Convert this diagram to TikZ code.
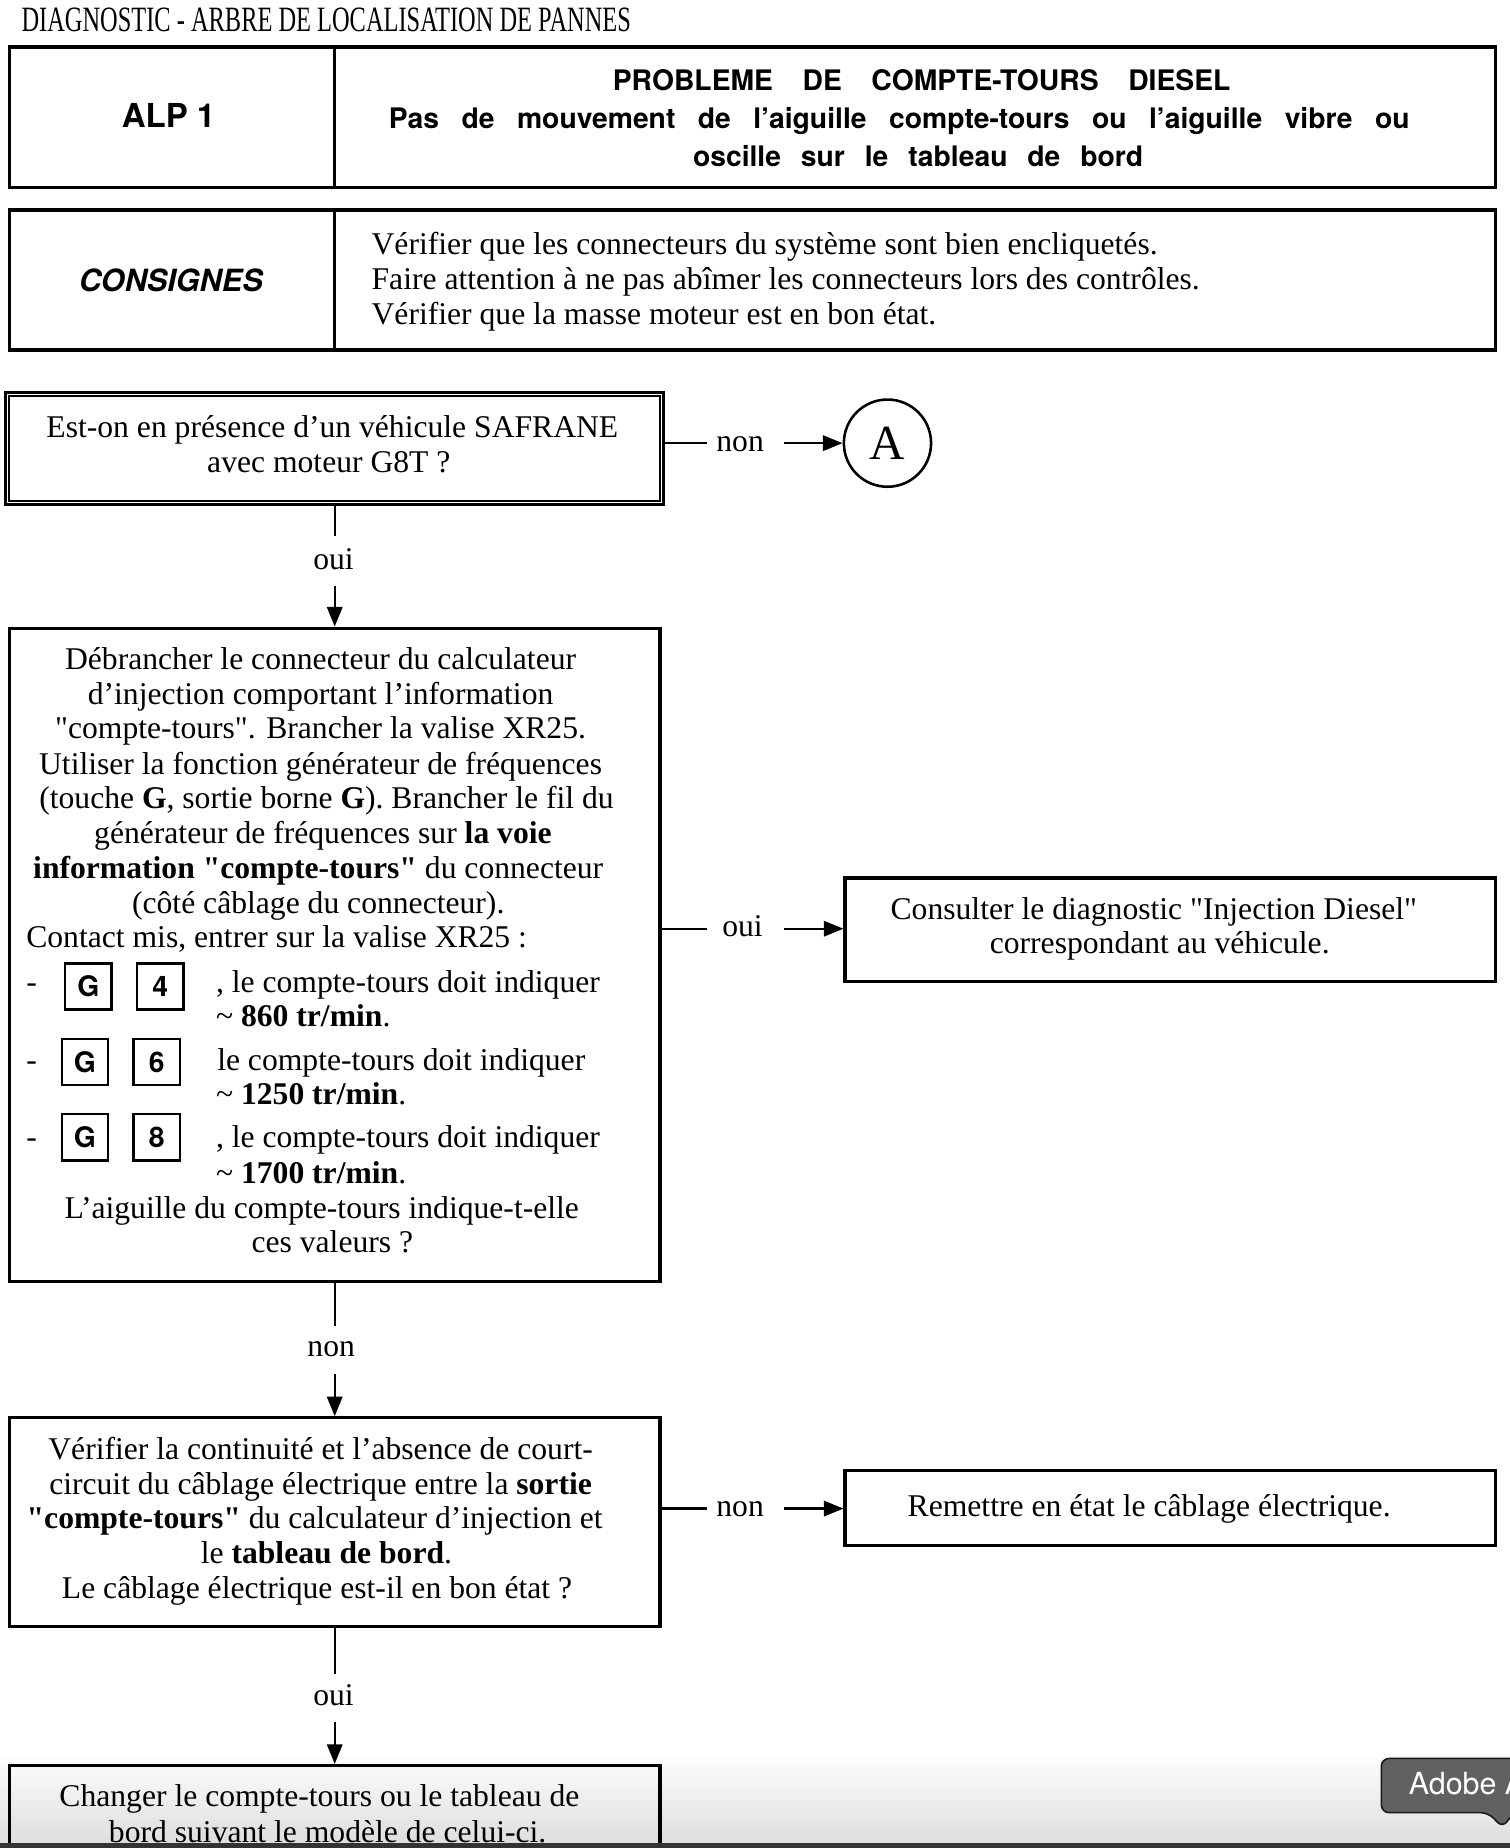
\documentclass[tikz,border=0pt]{standalone}
\usepackage{fontspec}
\setmainfont{Liberation Serif}
\setsansfont{TeX Gyre Heros}
\newfontfamily\qfont{Liberation Serif}
\usetikzlibrary{arrows.meta,calc,fit}
\newcommand{\myrm}{\normalfont\fontsize{16.1}{17.8}\selectfont}
\newcommand{\myhdr}{\sffamily\bfseries\fontsize{14.4}{17}\selectfont}
\newcommand{\mykey}{\sffamily\bfseries\fontsize{14.4}{17}\selectfont}
\newcommand{\tld}{\textasciitilde}
\newcommand{\dq}{{\qfont"}}
\tikzset{
  hframe/.style={draw, line width=1.8pt, inner sep=0pt},
  frame/.style={draw, line width=1.6pt, inner sep=0pt},
  ln/.style={line width=1.2pt},
  arr/.style={line width=1.2pt, -{Triangle[length=10pt,width=7.8pt]}},
  txt/.style={inner sep=0pt, anchor=base, font=\myrm},
  txtl/.style={txt, anchor=base west},
  keybox/.style={draw, line width=1.2pt, minimum size=23.5pt, inner sep=0pt, font=\mykey},
}
\begin{document}
\begin{tikzpicture}[x=0.6pt,y=-0.6pt]
\useasboundingbox (0,0) rectangle (1281,1568);
\clip (0,0) rectangle (1281,1568);
\fill[white] (0,0) rectangle (1281,1568);
% screen background gradient at the bottom
\shade[top color=white, bottom color=black!13] (0,1486) rectangle (1281,1564);

% title
\node[inner sep=0pt, anchor=base west] (title) at (18,27)
  {\resizebox{310.2pt}{12pt}{\normalfont DIAGNOSTIC - ARBRE DE LOCALISATION DE PANNES}};

% header
\node[hframe, fit={(8,40) (284,159)}] (alp) {};
\node[hframe, fit={(284,40) (1269,159)}] (prob) {};
\node[inner sep=0pt, anchor=base, font=\sffamily\bfseries\fontsize{16.8}{20}\selectfont] (alpt) at (143,108) {ALP 1};
\node[inner sep=0pt, anchor=base, font=\myhdr] (p1) at (782,77) {\makebox[314.4pt][s]{PROBLEME DE COMPTE-TOURS DIESEL}};
\node[inner sep=0pt, anchor=base, font=\myhdr] (p2) at (763,109) {\makebox[519.6pt][s]{Pas de mouvement de l'aiguille compte-tours ou l'aiguille vibre ou}};
\node[inner sep=0pt, anchor=base, font=\myhdr] (p3) at (779,141) {\makebox[229.2pt][s]{oscille sur le tableau de bord}};

% consignes
\node[hframe, fit={(8,178) (284,297)}] (cons) {};
\node[hframe, fit={(284,178) (1269,297)}] (consr) {};
\node[inner sep=0pt, anchor=base, font=\sffamily\bfseries\itshape\fontsize{15.6}{18}\selectfont] (const) at (145,247) {CONSIGNES};
\node[txtl] (c1) at (315,216) {Vérifier que les connecteurs du système sont bien encliquetés.};
\node[txtl] (c2) at (315,246) {Faire attention à ne pas abîmer les connecteurs lors des contrôles.};
\node[txtl] (c3) at (315,275) {Vérifier que la masse moteur est en bon état.};

% box 1 (double frame)
\node[frame, fit={(5,333) (563,428)}] (b1) {};
\draw[line width=1.1pt] ($(b1.north west)+(4,4)$) rectangle ($(b1.south east)+(-4,-4)$);
\node[txt] (b1t1) at (282,371) {Est-on en présence d'un véhicule SAFRANE};
\node[txt] (b1t2) at (279,401) {avec moteur G8T ?};

% A connector
\node[circle, draw, line width=1.3pt, minimum size=44.4pt, inner sep=0pt, font=\normalfont\fontsize{25}{26}\selectfont] (cA) at (753,376) {A};
\coordinate (n1a) at (600,376);
\coordinate (n1b) at (665,376);
\draw[ln] (b1.east |- cA.center) -- (n1a);
\node[txt] (l1) at (628,383) {non};
\draw[arr] (n1b) -- (cA.west);

% box 2
\node[frame, fit={(8,533) (560,1087)}] (b2) {};
\coordinate (v1a) at (284,455);
\coordinate (v1b) at (284,497);
\draw[ln] (b1.south) -- (v1a);
\node[txt] (l2) at (283,483) {oui};
\draw[arr] (v1b) -- (b2.north);

\node[txt] (t01) at (272,568) {Débrancher le connecteur du calculateur};
\node[txt] (t02) at (272,598) {d'injection comportant l'information};
\node[txt] (t03) at (272,627) {\dq compte-tours\dq. Brancher la valise XR25.};
\node[txt] (t04) at (272,657) {Utiliser la fonction générateur de fréquences};
\node[txt] (t05) at (277,686) {(touche \textbf{G}, sortie borne \textbf{G}). Brancher le fil du};
\node[txt] (t06) at (274,716) {générateur de fréquences sur \textbf{la voie}};
\node[txt] (t07) at (270,745) {\textbf{information \dq compte-tours\dq} du connecteur};
\node[txt] (t08) at (270,775) {(côté câblage du connecteur).};
\node[txtl] (t09) at (22,804) {Contact mis, entrer sur la valise XR25 :};

\node[txtl] (d1) at (22,842) {-};
\node[keybox] (g1) at (75,837) {G};
\node[keybox] (k1) at (136,837) {4};
\node[txtl] (r1a) at (183,842) {, le compte-tours doit indiquer};
\node[txtl] (r1b) at (183,871) {\tld{} \textbf{860 tr/min}.};

\node[txtl] (d2) at (22,908) {-};
\node[keybox] (g2) at (72,901) {G};
\node[keybox] (k2) at (133,901) {6};
\node[txtl] (r2a) at (184,908) {le compte-tours doit indiquer};
\node[txtl] (r2b) at (183,937) {\tld{} \textbf{1250 tr/min}.};

\node[txtl] (d3) at (22,974) {-};
\node[keybox] (g3) at (72,965) {G};
\node[keybox] (k3) at (133,965) {8};
\node[txtl] (r3a) at (183,974) {, le compte-tours doit indiquer};
\node[txtl] (r3b) at (183,1004) {\tld{} \textbf{1700 tr/min}.};

\node[txt] (t10) at (273,1034) {L'aiguille du compte-tours indique-t-elle};
\node[txt] (t11) at (282,1063) {ces valeurs ?};

% consulter
\node[frame, fit={(717,745) (1269,833)}] (cons2) {};
\node[txt] (ct1) at (979,780) {Consulter le diagnostic \dq Injection Diesel\dq};
\node[txt] (ct2) at (984,809) {correspondant au véhicule.};
\coordinate (o2a) at (600,788);
\coordinate (o2b) at (665,788);
\draw[ln] (b2.east |- o2a) -- (o2a);
\node[txt] (l3) at (630,795) {oui};
\draw[arr] (o2b) -- (cons2.west |- o2b);

% box 3
\node[frame, fit={(8,1203) (560,1380)}] (b3) {};
\coordinate (v2a) at (284,1125);
\coordinate (v2b) at (284,1166);
\draw[ln] (b2.south) -- (v2a);
\node[txt] (l4) at (281,1151) {non};
\draw[arr] (v2b) -- (b3.north);

\node[txt] (s1) at (272,1238) {Vérifier la continuité et l'absence de court-};
\node[txt] (s2) at (272,1268) {circuit du câblage électrique entre la \textbf{sortie}};
\node[txt] (s3) at (267,1297) {\textbf{\dq compte-tours\dq} du calculateur d'injection et};
\node[txt] (s4) at (277,1327) {le \textbf{tableau de bord}.};
\node[txt] (s5) at (269,1356) {Le câblage électrique est-il en bon état ?};

% remettre
\node[frame, fit={(717,1248) (1269,1311)}] (rem) {};
\node[txt] (rt) at (975,1287) {Remettre en état le câblage électrique.};
\coordinate (n3a) at (600,1280);
\coordinate (n3b) at (665,1280);
\draw[ln] (b3.east |- n3a) -- (n3a);
\node[txt] (l5) at (628,1287) {non};
\draw[arr] (n3b) -- (rem.west |- n3b);

% box 4
\node[frame, fit={(8,1498) (560,1620)}] (b4) {};
\coordinate (v3a) at (284,1420);
\coordinate (v3b) at (284,1461);
\draw[ln] (b3.south) -- (v3a);
\node[txt] (l6) at (283,1447) {oui};
\draw[arr] (v3b) -- (b4.north);
\node[txt] (u1) at (271,1533) {Changer le compte-tours ou le tableau de};
\node[txt] (u2) at (278,1563) {bord suivant le modèle de celui-ci.};

% screen overlay
\fill[black!80] (0,1564) rectangle (1281,1568);
\draw[fill=black!62, draw=black!90, line width=0.8pt, rounded corners=4pt]
  (1300,1492) -- (1172,1492) -- (1172,1538) -- (1263,1538) -- (1275,1551) -- (1284,1538) -- (1300,1538);
\node[inner sep=0pt, anchor=base west, text=white, font=\sffamily\fontsize{15.5}{17}\selectfont] (adobe) at (1195,1523) {Adobe A};
\end{tikzpicture}
\end{document}
